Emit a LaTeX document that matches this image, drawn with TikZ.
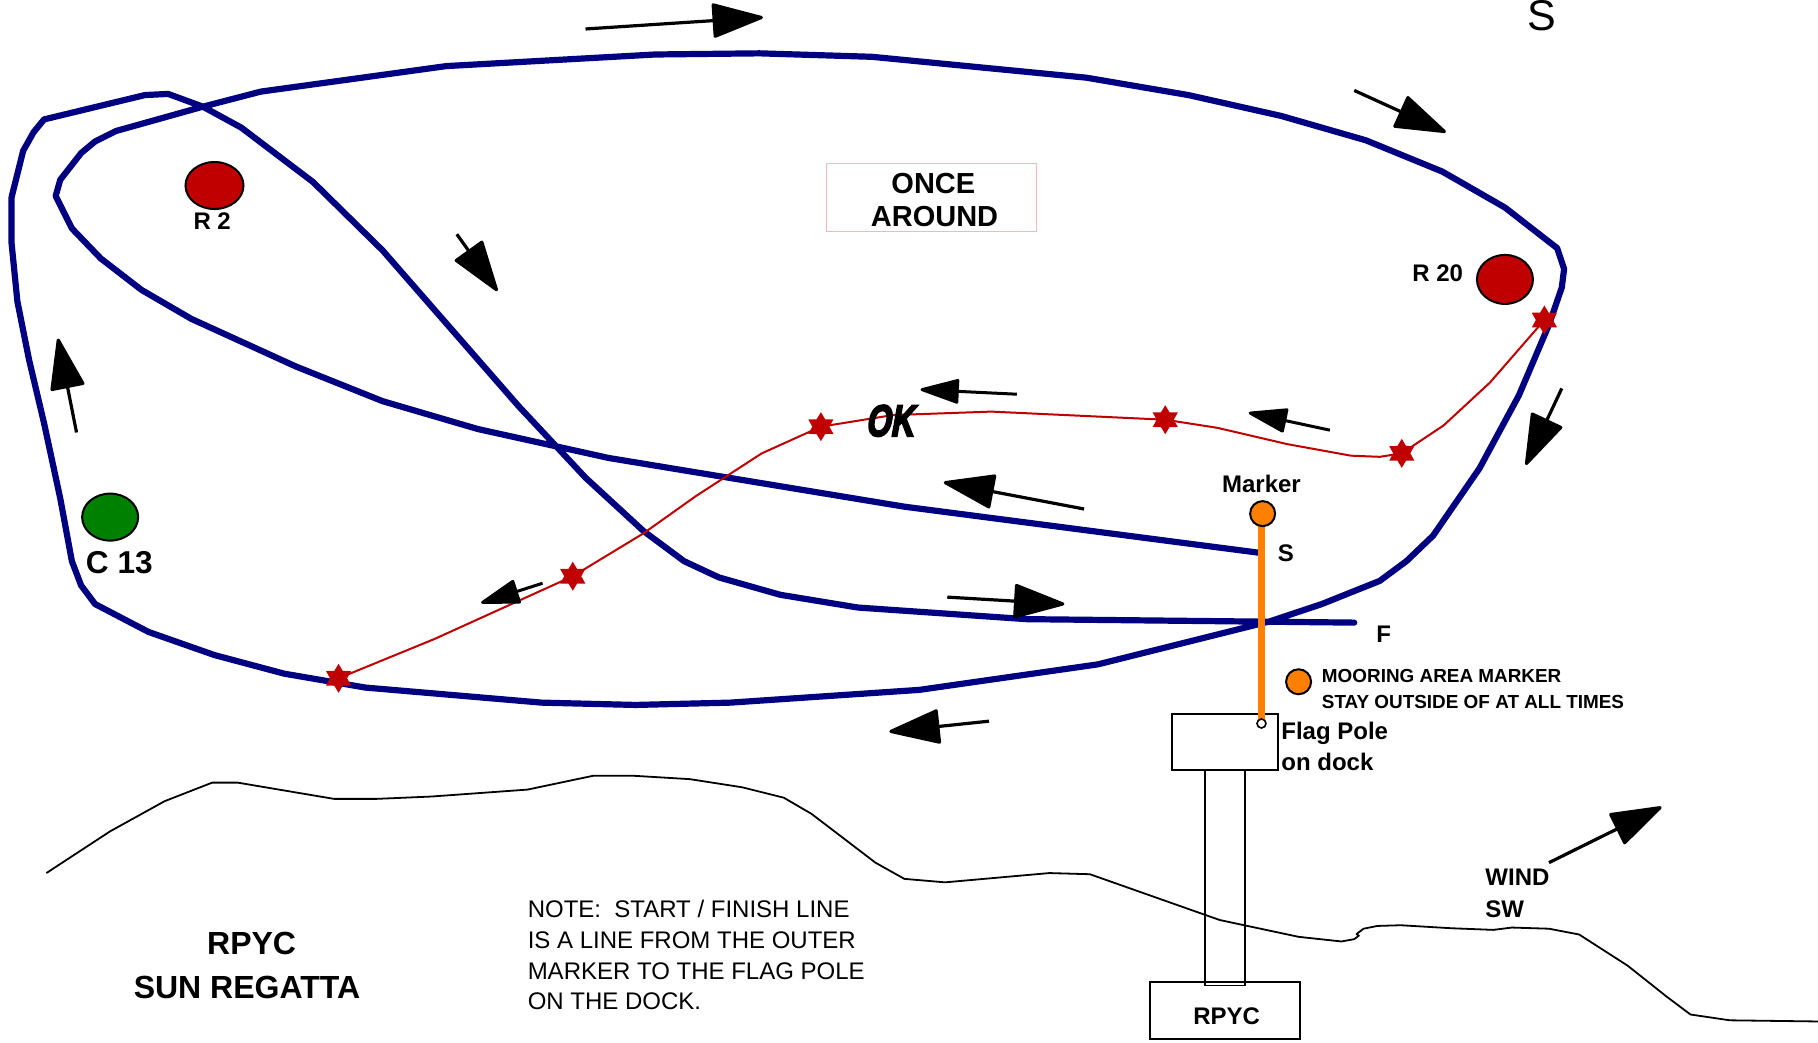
\documentclass[tikz,border=0pt]{standalone}
\usepackage{fontspec}
\setmainfont{Liberation Sans}
\newfontfamily\okfont[FakeBold=5,FakeSlant=0.25]{Liberation Sans Bold}
\usetikzlibrary{arrows.meta,shapes.geometric}
\newcommand{\fs}[1]{\fontsize{#1}{#1}\selectfont}
\tikzset{
  x=1.1594pt,y=-1.1594pt,
  course/.style={draw=navyc,line width=6.2pt,line join=round,line cap=round},
  redline/.style={draw=redc,line width=2pt,line join=round},
  bigdir/.style={draw=black,line width=3.2pt,-{Triangle[round,length=54pt,width=35pt]}},
  smalldir/.style={draw=black,line width=3pt,-{Triangle[round,length=42pt,width=25pt]}},
  redstar/.style={star,star points=6,star point ratio=1.7,fill=redc,draw=none,minimum size=29pt,inner sep=0pt},
  buoy/.style={ellipse,draw=black,line width=2pt,inner sep=0pt},
  lab/.style={inner sep=0pt,font=\bfseries\fs{24}},
  thinbox/.style={draw=black,line width=1.8pt,fill=none},
}
\definecolor{navyc}{HTML}{000080}
\definecolor{redc}{HTML}{C00000}
\definecolor{greenc}{HTML}{008000}
\definecolor{orangec}{HTML}{FF8000}
\definecolor{pinkc}{HTML}{F0B8C0}
\begin{document}
\begin{tikzpicture}
\useasboundingbox (0,0) rectangle (1568,899);
\clip (0,0) rectangle (1568,899);
% shoreline
\draw[black,line width=1.8pt,line join=round] (40,753)--(95,717)--(142,691)--(183,675)--(205,675)--(288,689)--(325,689)--(372,687)--(455,681)--(512,669)--(545,669)--(595,672)--(640,679)--(676,688)--(700,702)--(755,744)--(780,758)--(815,761)--(905,753)--(940,754)--(1052,793.5)--(1120,808)--(1157,812)--(1168,810)--(1172,807)--(1170,805.6)--(1176,801)--(1188,798.6)--(1208,798)--(1252,800.6)--(1288,802)--(1304,800)--(1336,801)--(1362,806)--(1404,833)--(1438,860)--(1458,875)--(1492,880)--(1568,881);
% dock
\draw[thinbox] (1039,664) rectangle (1074,850);
\draw[thinbox] (1011,616) rectangle (1102,664);
\draw[thinbox] (992,847) rectangle (1121,896);
% course
\draw[course] (1088,477)--(780,437)--(525,395)--(412,370)--(330,346)--(255,316)--(165,275)--(122,250)--(87,223)--(62,197)--(48,169)--(52,155)--(70,132)--(82,122)--(100,113)--(175,92)--(225,79)--(385,57)--(565,47)--(655,46)--(752,49)--(937,67)--(1025,82)--(1105,100)--(1178,121)--(1244,148)--(1298,179)--(1343,214)--(1349,232)--(1347,248)--(1336,280)--(1310,341)--(1276,404)--(1236,462)--(1213,484)--(1190,501)--(1140,521)--(1095,536)--(947,573)--(793,595)--(630,606)--(548,608)--(467,606)--(315,593)--(245,581)--(185,565)--(128,545)--(82,521)--(70,505)--(62,484)--(52,430)--(38,365)--(25,310)--(15,260)--(10,210)--(10,170)--(20,130)--(29,114)--(38,103)--(125,82)--(145,81)--(175,92)--(208,110)--(270,157)--(330,216)--(447,350)--(505,412)--(555,458)--(590,484)--(620,498)--(673,513)--(740,524)--(885,534)--(1168,537);
% red route
\draw[redline] (292,585)--(375,551)--(494,497)--(555,460)--(600,428)--(657,391)--(708,368)--(770,358)--(855,355)--(1005,362)--(1050,369)--(1110,383)--(1165,393)--(1190,394)--(1209,391)--(1245,367)--(1285,330)--(1332,276);
\foreach \n/\p in {a/{292,585},b/{494,497},c/{708,368},d/{1005,362},e/{1209,391},f/{1332,276}}
  \node[redstar] (star\n) at (\p) {};
% arrows
\draw[bigdir] (505,25)--(658,15);
\draw[bigdir] (1168,78)--(1247,114);
\draw[bigdir] (394,202)--(429,251);
\draw[bigdir] (66,373)--(50,292);
\draw[smalldir] (877,340)--(794,336);
\draw[smalldir] (1147,371)--(1077,356);
\draw[bigdir] (935,439)--(814,416);
\draw[smalldir] (468,503)--(415,520);
\draw[bigdir] (817,515)--(918,521);
\draw[bigdir] (853,622)--(767,631);
\draw[bigdir] (1347,335)--(1316,401);
\draw[bigdir] (1336,744)--(1433,696);
% marks
\node[buoy,fill=redc,minimum width=58pt,minimum height=47pt] (r2) at (185,160) {};
\node[buoy,fill=redc,minimum width=56pt,minimum height=49pt] (r20) at (1298,241) {};
\node[buoy,fill=greenc,minimum width=56pt,minimum height=47pt] (c13) at (95,446) {};
\draw[draw=orangec,line width=6.5pt] (1088,452)--(1088,620);
\node[buoy,fill=orangec,minimum width=25pt,minimum height=25pt] (marker) at (1089,443) {};
\node[buoy,fill=orangec,minimum width=25pt,minimum height=25pt] (moor) at (1120,588) {};
\node[circle,draw=black,fill=white,line width=1.6pt,minimum size=9pt,inner sep=0pt] (pole) at (1088,624) {};
% once around
\node[draw=pinkc,line width=1pt,minimum width=209.9pt,minimum height=68.4pt,inner sep=0pt] (once) at (803.5,170.5) {};
\node[lab,font=\bfseries\fs{29},anchor=base] (t1) at (805,167) {ONCE};
\node[lab,font=\bfseries\fs{29},anchor=base] (t2) at (806,195) {AROUND};
% labels
\node[lab,anchor=base] (tr2) at (183,198) {R 2};
\node[lab,anchor=base west] (tr20) at (1218,243) {R 20};
\node[lab,font=\bfseries\fs{31.6},anchor=base west] (tc13) at (74,495) {C 13};
\node[lab,anchor=base] (tm) at (1088,425) {Marker};
\node[lab,anchor=base west] (ts) at (1102,484) {S};
\node[lab,anchor=base west] (tf) at (1187,554) {F};
\node[lab,font=\bfseries\fs{18.9},anchor=base west] (tmo) at (1140,589) {MOORING AREA MARKER};
\node[lab,font=\bfseries\fs{18.9},anchor=base west] (tst) at (1140,611) {STAY OUTSIDE OF AT ALL TIMES};
\node[lab,anchor=base west] (tfp) at (1105,638) {Flag Pole};
\node[lab,anchor=base west] (tod) at (1105,664.5) {on dock};
\node[lab,anchor=base] (trp) at (1058,884) {RPYC};
\node[lab,anchor=base west] (tw) at (1281,763.5) {WIND};
\node[lab,anchor=base west] (tsw) at (1281,791) {SW};
\node[lab,font=\bfseries\fs{32},anchor=base] (tr) at (217,823) {RPYC};
\node[lab,font=\bfseries\fs{32},anchor=base] (tsr) at (213,861) {SUN REGATTA};
\foreach \n/\y/\t in {a/791/{NOTE:\ \ START / FINISH LINE},b/818/{IS A LINE FROM THE OUTER},c/845/{MARKER TO THE FLAG POLE},d/871/{ON THE DOCK.}}
  \node[inner sep=0pt,font=\fs{24},anchor=base west] (note\n) at (455,\y) {\t};
\node[inner sep=0pt,font=\fs{43},anchor=base] (ts2) at (1330,26) {S};
\node[inner sep=0pt,font=\okfont\fs{44},anchor=base,xscale=0.72] (ok) at (767,376) {OK};
\end{tikzpicture}
\end{document}
